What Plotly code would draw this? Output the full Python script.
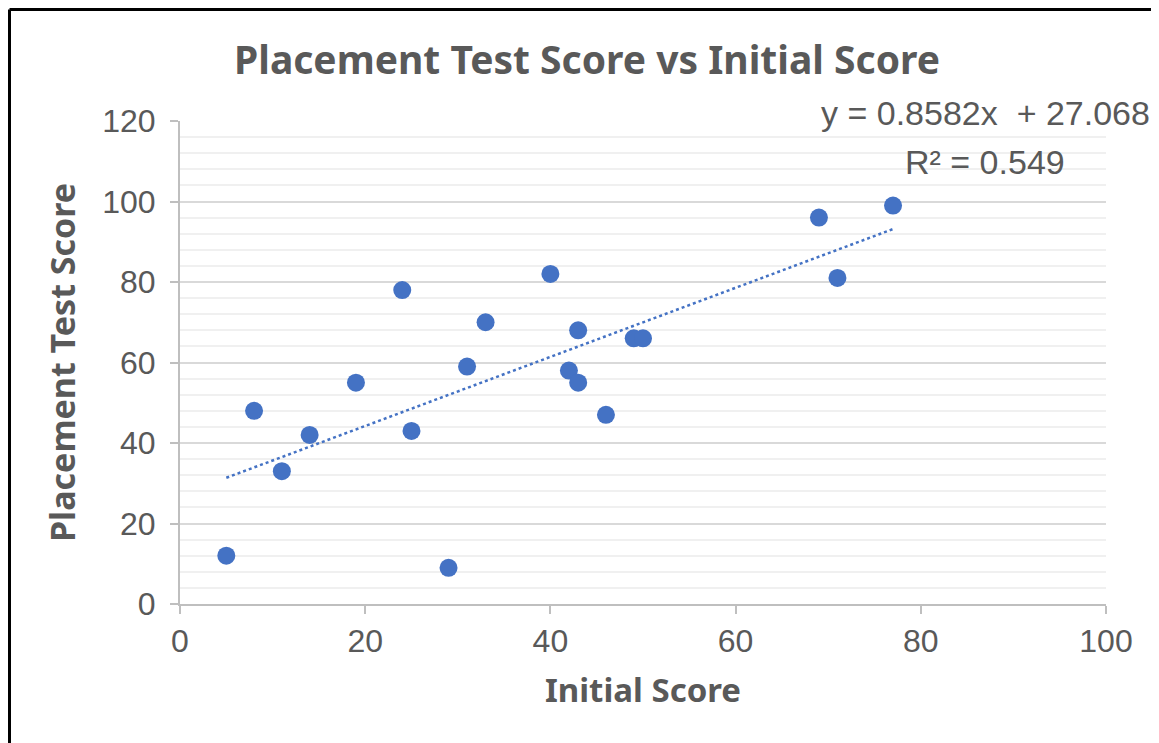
import numpy as np
import plotly.graph_objects as go

initial_score = [5, 8, 11, 14, 19, 24, 25, 29, 31, 33, 40, 42, 43, 43, 46, 49, 50, 69, 71, 77]
placement_score = [12, 48, 33, 42, 55, 78, 43, 9, 59, 70, 82, 58, 68, 55, 47, 66, 66, 96, 81, 99]
x_ticks = [0, 20, 40, 60, 80, 100]
y_ticks = [0, 20, 40, 60, 80, 100, 120]
eq_text = "y = 0.8582x  + 27.068"
r2_text = "R² = 0.549"

BLUE = "#4472C4"
GRAY = "#595959"

xs = np.array(initial_score, dtype=float)
ys = np.array(placement_score, dtype=float)
slope, intercept = np.polyfit(xs, ys, 1)
tx = np.array([xs.min(), xs.max()])
ty = slope * tx + intercept

fig = go.Figure()
fig.add_trace(go.Scatter(x=tx, y=ty, mode="lines",
                         line=dict(color=BLUE, width=2.5, dash="dot"),
                         hoverinfo="skip", showlegend=False))
fig.add_trace(go.Scatter(x=initial_score, y=placement_score, mode="markers",
                         marker=dict(color=BLUE, size=18), showlegend=False))

OFF = 8  # page body margin
W, H = 1159 - OFF, 743 - OFF
L, T = 180 - OFF, 121 - OFF
R = 1159 - 1106
B = 743 - 604
pw, ph = W - L - R, H - T - B
PB = 604 - OFF  # plot bottom in figure px
PL = L

fig.update_layout(
    width=W, height=H,
    margin=dict(l=L, r=R, t=T, b=B, autoexpand=False),
    paper_bgcolor="white", plot_bgcolor="white",
    title=dict(text="<b>Placement Test Score vs Initial Score</b>",
               x=(587 - OFF) / W, xref="container", xanchor="center",
               y=1 - (60 - OFF) / H, yref="container", yanchor="middle",
               font=dict(family="Noto Sans, Open Sans, sans-serif", size=39, color=GRAY)),
    font=dict(family="Liberation Sans, Arial, sans-serif", color=GRAY),
)
fig.update_xaxes(range=[0, 100], tickvals=x_ticks, showgrid=False, zeroline=False,
                 showline=True, linecolor="#BFBFBF", linewidth=2,
                 ticks="outside", ticklen=8, tickcolor="#BFBFBF", tickwidth=2,
                 tickfont=dict(size=32, color=GRAY),
                 title=dict(text="<b>Initial Score</b>", standoff=20,
                            font=dict(family="Noto Sans, Open Sans, sans-serif", size=33, color=GRAY)))
fig.update_yaxes(range=[0, 120], tickvals=y_ticks, showgrid=True, gridcolor="#D9D9D9", gridwidth=2,
                 zeroline=False, showline=True, linecolor="#BFBFBF", linewidth=2,
                 ticks="outside", ticklen=8, tickcolor="#BFBFBF", tickwidth=2,
                 ticklabelstandoff=8,
                 tickfont=dict(size=32, color=GRAY),
                 minor=dict(dtick=4, showgrid=True, gridcolor="#F0F0F0", gridwidth=2, ticks=""),
                 title=dict(text="<b>Placement Test Score</b>", standoff=16,
                            font=dict(family="Noto Sans, Open Sans, sans-serif", size=34, color=GRAY)))

fig.add_annotation(text=eq_text, x=(985 - OFF - PL) / pw, y=(PB - (113 - OFF)) / ph, xref="paper", yref="paper",
                   xanchor="center", yanchor="middle", showarrow=False,
                   font=dict(family="Liberation Sans, Arial, sans-serif", size=34, color=GRAY))
fig.add_annotation(text=r2_text, x=(985 - OFF - PL) / pw, y=(PB - (162 - OFF)) / ph, xref="paper", yref="paper",
                   xanchor="center", yanchor="middle", showarrow=False,
                   font=dict(family="Liberation Sans, Arial, sans-serif", size=34, color=GRAY))

# outer frame (left and top edges visible)
fx0 = (9.5 - OFF - PL) / pw
fy1 = (PB - (9.5 - OFF)) / ph
fig.add_shape(type="line", xref="paper", yref="paper", x0=fx0, x1=(W + 5 - PL) / pw, y0=fy1, y1=fy1,
              line=dict(color="black", width=3))
fig.add_shape(type="line", xref="paper", yref="paper", x0=fx0, x1=fx0, y0=fy1, y1=(PB - H - 5) / ph,
              line=dict(color="black", width=3))

fig.write_html("out.html")
